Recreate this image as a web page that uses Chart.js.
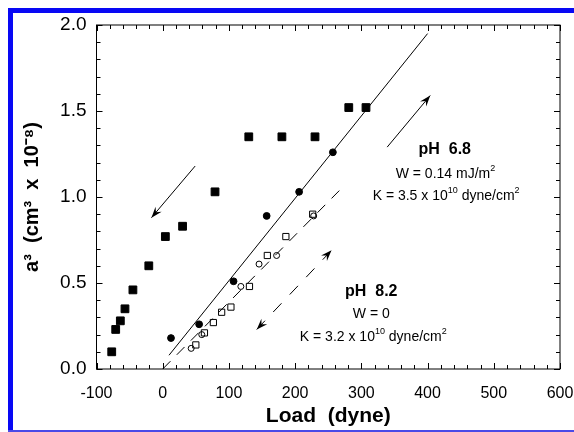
<!DOCTYPE html>
<html>
<head>
<meta charset="utf-8">
<script src="https://cdn.jsdelivr.net/npm/chart.js@4.4.0/dist/chart.umd.min.js"></script>
<style>
  html, body { margin: 0; padding: 0; background: #fff; }
  #wrap { position: relative; width: 574px; height: 432px; overflow: hidden; }
  #chart { display: block; }
  .bar { position: absolute; background: #0808f4; }
</style>
</head>
<body>
<div id="wrap">
  <canvas id="chart" width="574" height="432"></canvas>
  <div class="bar" style="left:8px;top:8px;width:566px;height:5px"></div>
  <div class="bar" style="left:8px;top:8px;width:5px;height:424px"></div>
  <div class="bar" style="left:8px;top:430px;width:566px;height:2px;background:#4a4ae8"></div>
</div>
<script>
'use strict'

// pH 6.8 : loading (filled circles), unloading (filled squares)
const loadUp68 = [12.5, 55, 107, 157, 206, 257];
const vol3Up68 = [0.18, 0.26, 0.51, 0.89, 1.03, 1.26];
const loadDown68 = [-77, -71, -64, -57, -45, -21, 4, 30, 79, 130, 180, 230, 281, 307];
const vol3Down68 = [0.10, 0.23, 0.28, 0.35, 0.46, 0.60, 0.77, 0.83, 1.03, 1.35, 1.35, 1.35, 1.52, 1.52];

// pH 8.2 : open squares / open circles
const loadSq82 = [50, 63, 76.5, 89, 103, 131, 158, 186, 226.5];
const vol3Sq82 = [0.14, 0.21, 0.27, 0.33, 0.36, 0.48, 0.66, 0.77, 0.90];
const loadCirc82 = [43, 59, 118, 145.5, 172, 228];
const vol3Circ82 = [0.12, 0.20, 0.48, 0.61, 0.66, 0.89];

// fitted lines
const fit68Load = [9.5, 400];
const fit68Vol3 = [0.08, 1.95];
const fit82Load = [0, 270];
const fit82Vol3 = [0, 1.05];

// direction arrows
const arrowDownLoad = [49, -17];
const arrowDownVol3 = [1.18, 0.88];
const arrowUpLoad = [339, 404];
const arrowUpVol3 = [1.29, 1.59];
const arrow82Load = [142, 255];
const arrow82Vol3 = [0.23, 0.69];

// axes
const xRange = [-100, 600];
const yRange = [0, 2];
const xMajor = 100, xMinor = 20;
const yMajor = 0.5, yMinor = 0.1;

const FONT = '"Liberation Sans", Arial, sans-serif';

const pts = (xs, ys) => xs.map((x, i) => ({ x: x, y: ys[i] }));

// text blocks, anchored in data units
const notes = [
    { x: 426, y: 1.275, size: 16, bold: true, parts: [['pH  6.8']] },
    { x: 427, y: 1.13, size: 14, parts: [['W = 0.14 mJ/m'], ['2', 1]] },
    { x: 428, y: 1.005, size: 14, parts: [['K = 3.5 x 10'], ['10', 1], [' dyne/cm'], ['2', 1]] },
    { x: 315, y: 0.45, size: 16, bold: true, parts: [['pH  8.2']] },
    { x: 315, y: 0.32, size: 14, parts: [['W = 0']] },
    { x: 318, y: 0.185, size: 14, parts: [['K = 3.2 x 10'], ['10', 1], [' dyne/cm'], ['2', 1]] }
];

function richText(ctx, note, cx, cy) {
    const base = (note.bold ? 'bold ' : '') + note.size + 'px ' + FONT;
    const small = Math.round(note.size * 0.62) + 'px ' + FONT;
    let w = 0;
    const widths = note.parts.map(p => {
        ctx.font = p[1] ? small : base;
        const pw = ctx.measureText(p[0]).width;
        w += pw;
        return pw;
    });
    let x = cx - w / 2;
    ctx.textAlign = 'left';
    ctx.textBaseline = 'middle';
    note.parts.forEach((p, i) => {
        ctx.font = p[1] ? small : base;
        ctx.fillText(p[0], x, p[1] ? cy - note.size * 0.42 : cy);
        x += widths[i];
    });
}

function arrowHead(ctx, fx, fy, tx, ty) {
    const a = Math.atan2(ty - fy, tx - fx);
    ctx.save();
    ctx.translate(tx, ty);
    ctx.rotate(a);
    ctx.beginPath();
    ctx.moveTo(0, 0);
    ctx.lineTo(-11, -4);
    ctx.lineTo(-7, 0);
    ctx.lineTo(-11, 4);
    ctx.closePath();
    ctx.fill();
    ctx.restore();
}

const framePlugin = {
    id: 'frame',
    afterDatasetsDraw(chart) {
        const { ctx, chartArea: a, scales: { x, y } } = chart;
        ctx.save();
        ctx.strokeStyle = '#000';
        ctx.fillStyle = '#000';
        ctx.lineWidth = 1;
        ctx.strokeRect(a.left, a.top, a.right - a.left, a.bottom - a.top);

        ctx.beginPath();
        const nx = Math.round((xRange[1] - xRange[0]) / xMinor);
        for (let i = 0; i <= nx; i++) {
            const v = xRange[0] + i * xMinor;
            const px = Math.round(x.getPixelForValue(v)) + 0.5;
            const len = (v % xMajor === 0) ? 6 : 4;
            ctx.moveTo(px, a.bottom); ctx.lineTo(px, a.bottom - len);
            ctx.moveTo(px, a.top); ctx.lineTo(px, a.top + len);
        }
        const ny = Math.round((yRange[1] - yRange[0]) / yMinor);
        const per = Math.round(yMajor / yMinor);
        for (let i = 0; i <= ny; i++) {
            const v = yRange[0] + i * yMinor;
            const py = Math.round(y.getPixelForValue(v)) + 0.5;
            const len = (i % per === 0) ? 6 : 4;
            ctx.moveTo(a.left, py); ctx.lineTo(a.left + len, py);
            ctx.moveTo(a.right, py); ctx.lineTo(a.right - len, py);
        }
        ctx.stroke();

        // arrow heads on the arrow datasets
        chart.data.datasets.forEach((ds, i) => {
            if (!ds.heads) return;
            const el = chart.getDatasetMeta(i).data;
            const p0 = el[0], p1 = el[el.length - 1];
            if (ds.heads.includes('end')) arrowHead(ctx, p0.x, p0.y, p1.x, p1.y);
            if (ds.heads.includes('start')) arrowHead(ctx, p1.x, p1.y, p0.x, p0.y);
        });

        notes.forEach(n => richText(ctx, n, x.getPixelForValue(n.x), y.getPixelForValue(n.y)));
        ctx.restore();
    }
};

const lineSet = (xs, ys, dash, heads) => ({
    data: pts(xs, ys),
    showLine: true,
    borderColor: '#000',
    borderWidth: 1,
    borderDash: dash,
    pointRadius: 0,
    heads: heads,
    order: 2
});

new Chart(document.getElementById('chart'), {
    type: 'scatter',
    data: {
        datasets: [
            {
                label: 'pH 6.8 unloading',
                data: pts(loadDown68, vol3Down68),
                pointStyle: 'rect', pointRadius: 5.5,
                backgroundColor: '#000', borderColor: '#000', borderWidth: 1, order: 1
            },
            {
                label: 'pH 6.8 loading',
                data: pts(loadUp68, vol3Up68),
                pointStyle: 'circle', pointRadius: 3.4,
                backgroundColor: '#000', borderColor: '#000', borderWidth: 1, order: 1
            },
            {
                label: 'pH 8.2 squares',
                data: pts(loadSq82, vol3Sq82),
                pointStyle: 'rect', pointRadius: 4.4,
                backgroundColor: 'rgba(0,0,0,0)', borderColor: '#000', borderWidth: 1, order: 1
            },
            {
                label: 'pH 8.2 circles',
                data: pts(loadCirc82, vol3Circ82),
                pointStyle: 'circle', pointRadius: 3,
                backgroundColor: 'rgba(0,0,0,0)', borderColor: '#000', borderWidth: 1, order: 1
            },
            lineSet(fit68Load, fit68Vol3, []),
            lineSet(fit82Load, fit82Vol3, [11, 9]),
            lineSet(arrowDownLoad, arrowDownVol3, [], ['end']),
            lineSet(arrowUpLoad, arrowUpVol3, [], ['end']),
            lineSet(arrow82Load, arrow82Vol3, [12, 12], ['start', 'end'])
        ]
    },
    options: {
        responsive: false,
        animation: false,
        layout: { padding: { left: 0, right: 0, top: 25, bottom: 0 } },
        plugins: {
            legend: { display: false },
            tooltip: { enabled: false }
        },
        scales: {
            x: {
                type: 'linear',
                min: xRange[0],
                max: xRange[1],
                afterFit(s) {
                    s.height = 63;
                    s.paddingLeft = 0;
                    s.paddingRight = 14;
                },
                grid: { display: false, drawTicks: false },
                border: { display: false },
                ticks: {
                    stepSize: xMajor, autoSkip: false, maxRotation: 0,
                    color: '#000', padding: 15,
                    font: { family: FONT, size: 16 }
                },
                title: {
                    display: true, text: 'Load  (dyne)', color: '#000',
                    font: { family: FONT, size: 21, weight: 'bold' },
                    padding: { top: 0, bottom: 3 }
                }
            },
            y: {
                type: 'linear',
                min: yRange[0],
                max: yRange[1],
                afterFit(s) { s.width = 96.5; },
                grid: { display: false, drawTicks: false },
                border: { display: false },
                ticks: {
                    stepSize: yMajor, color: '#000', padding: 10,
                    font: { family: FONT, size: 19 },
                    callback: v => v.toFixed(1)
                },
                title: {
                    display: true, text: 'a³  (cm³  x  10⁻⁸)', color: '#000',
                    font: { family: FONT, size: 20, weight: 'bold' },
                    padding: { top: 20, bottom: 0 }
                }
            }
        }
    },
    plugins: [framePlugin]
});
</script>
</body>
</html>
